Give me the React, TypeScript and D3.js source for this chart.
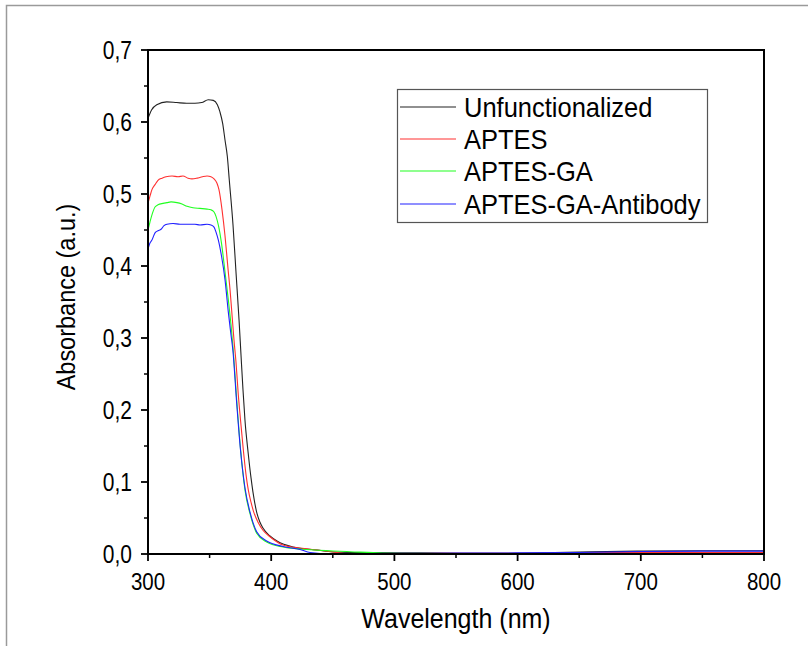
import React from "react";
import * as d3 from "d3";

const seriesNames = ["Unfunctionalized", "APTES", "APTES-GA", "APTES-GA-Antibody"];
const seriesColors = ["#222222", "#ff3030", "#20ff20", "#2020ff"];

const unfWl = [300, 303, 307.1, 315.2, 323.3, 331.4, 338.1, 343.6, 348.9, 353, 356.3, 358.4, 360.6, 362.5, 364.4, 366, 369, 371.4, 373.9, 375.5, 377.1, 378.7, 381.2, 383.6, 385.2, 388.5, 390.9, 393.3, 399, 404.7, 417.7, 437.2, 450.2, 480, 520, 560, 600, 630, 660, 700, 750, 800];
const unfAbs = [0.605, 0.617, 0.624, 0.628, 0.627, 0.626, 0.626, 0.627, 0.631, 0.63, 0.624, 0.614, 0.598, 0.575, 0.552, 0.519, 0.457, 0.392, 0.325, 0.276, 0.228, 0.186, 0.142, 0.106, 0.086, 0.056, 0.044, 0.036, 0.025, 0.018, 0.0097, 0.0056, 0.0028, 0.002, 0.0015, 0.001, 0.001, 0.002, 0.003, 0.004, 0.0045, 0.0045];

const aptWl = [300, 301.6, 303.2, 305.7, 308.1, 311.4, 314.6, 319.5, 324.4, 328.4, 332.5, 335.7, 339.8, 344.2, 347.9, 351.1, 353.6, 356, 357.6, 360.1, 362.5, 364.9, 366.6, 368.2, 369.8, 371.4, 373.3, 375.1, 377.4, 379.5, 381.4, 383.6, 385.5, 389.3, 393.3, 399, 409.6, 423.4, 437.2, 453.4, 461.5, 500, 560, 620, 680, 740, 800];
const aptAbs = [0.4875, 0.497, 0.506, 0.513, 0.519, 0.522, 0.524, 0.525, 0.524, 0.525, 0.522, 0.521, 0.522, 0.524, 0.525, 0.524, 0.521, 0.515, 0.506, 0.478, 0.442, 0.397, 0.367, 0.332, 0.297, 0.267, 0.221, 0.186, 0.144, 0.111, 0.089, 0.072, 0.06, 0.044, 0.033, 0.024, 0.0125, 0.0083, 0.0056, 0.002, 0.0, 0.001, 0.001, 0.001, 0.002, 0.002, 0.002];

const gaWl = [300, 301.6, 303.2, 305.7, 308.1, 312.2, 315.4, 318.7, 323.5, 327.6, 331.7, 336.5, 342.2, 347.9, 351.1, 353.6, 355.2, 357.2, 359.7, 362.5, 365.2, 367.4, 369.2, 372, 375.2, 378.7, 382.8, 388.2, 396.3, 409.6, 423.4, 450.2, 464, 490.7, 520, 560, 600, 700, 800];
const gaAbs = [0.45, 0.461, 0.471, 0.482, 0.485, 0.487, 0.488, 0.489, 0.488, 0.486, 0.483, 0.481, 0.48, 0.479, 0.478, 0.475, 0.469, 0.456, 0.431, 0.392, 0.353, 0.318, 0.283, 0.214, 0.144, 0.089, 0.056, 0.029, 0.0167, 0.0097, 0.0069, 0.0042, 0.0032, 0.0014, 0.001, 0.0005, 0.0, 0.0, 0.0];

const abWl = [300, 301.6, 303.2, 305.7, 308.1, 310.6, 313, 315.4, 320.3, 326, 331.7, 338.1, 342.2, 347.9, 351.1, 353.6, 355.2, 357.1, 359.8, 362.5, 365.2, 367.1, 369, 371.8, 375.1, 378.7, 382.8, 388.2, 396.3, 409.6, 423.4, 431.5, 447.7, 480, 520, 600, 650, 700, 750, 800];
const abAbs = [0.424, 0.432, 0.436, 0.446, 0.449, 0.451, 0.456, 0.458, 0.459, 0.458, 0.458, 0.458, 0.457, 0.458, 0.457, 0.454, 0.447, 0.436, 0.4125, 0.381, 0.336, 0.308, 0.281, 0.214, 0.144, 0.092, 0.058, 0.031, 0.018, 0.0104, 0.0063, 0.002, 0.0, 0.0005, 0.001, 0.0015, 0.002, 0.0035, 0.004, 0.004];

const xTicks = [300, 400, 500, 600, 700, 800];
const xMinor = [350, 450, 550, 650, 750];
const yTicks = [0, 0.1, 0.2, 0.3, 0.4, 0.5, 0.6, 0.7];
const yMinor = [0.05, 0.15, 0.25, 0.35, 0.45, 0.55, 0.65];
const xTitle = "Wavelength (nm)";
const yTitle = "Absorbance (a.u.)";

const W = 808, H = 646;
const L = 148, R = 764, T = 50, B = 554;
const FONT = "'Liberation Sans', Arial, sans-serif";

export default function App() {
  const x = d3.scaleLinear().domain([300, 800]).range([L, R]);
  const y = d3.scaleLinear().domain([0, 0.7]).range([B, T]);
  const series = [
    { wl: unfWl, a: unfAbs },
    { wl: aptWl, a: aptAbs },
    { wl: gaWl, a: gaAbs },
    { wl: abWl, a: abAbs },
  ];
  const line = d3.line<[number, number]>().x(d => x(d[0])).y(d => y(d[1])).curve(d3.curveMonotoneX);
  const fmt = (v: number) => v.toFixed(1).replace(".", ",");
  const legendY = [107, 139, 171, 204];
  const sy = 1.2;
  return (
    <svg width={W} height={H} style={{ position: "absolute", left: 0, top: 0, background: "#fff" }}>
      <rect x={0} y={0} width={W} height={H} fill="#fff" />
      <path d={`M6.5,${H} L6.5,5.5 L${W},5.5`} fill="none" stroke="#9a9a9a" strokeWidth={1.5} />
      <defs>
        <clipPath id="plot"><rect x={L} y={T - 2} width={R - L} height={B - T + 4} /></clipPath>
      </defs>
      <g clipPath="url(#plot)">
        {series.map((s, i) => (
          <path key={i} d={line(s.wl.map((w, j) => [w, s.a[j]] as [number, number])) || ""}
            fill="none" stroke={seriesColors[i]} strokeWidth={1.1} />
        ))}
      </g>
      <rect x={L} y={T} width={R - L} height={B - T} fill="none" stroke="#000" strokeWidth={2} />
      {xTicks.map(t => (
        <g key={"x" + t}>
          <line x1={x(t)} x2={x(t)} y1={B} y2={B + 7} stroke="#000" strokeWidth={1.8} />
          <text transform={`translate(${x(t)},${B + 36}) scale(1,${sy})`} textAnchor="middle" fontFamily={FONT} fontSize={20.5} fill="#000">{t}</text>
        </g>
      ))}
      {xMinor.map(t => (
        <line key={"xm" + t} x1={x(t)} x2={x(t)} y1={B} y2={B + 4} stroke="#000" strokeWidth={1.5} />
      ))}
      {yTicks.map(t => (
        <g key={"y" + t}>
          <line x1={L - 7} x2={L} y1={y(t)} y2={y(t)} stroke="#000" strokeWidth={1.8} />
          <text transform={`translate(${L - 16},${y(t) + 8.5}) scale(1,${sy})`} textAnchor="end" fontFamily={FONT} fontSize={21} fill="#000">{fmt(t)}</text>
        </g>
      ))}
      {yMinor.map(t => (
        <line key={"ym" + t} x1={L - 4} x2={L} y1={y(t)} y2={y(t)} stroke="#000" strokeWidth={1.5} />
      ))}
      <text transform={`translate(${(L + R) / 2},628) scale(1,1.12)`} textAnchor="middle" fontFamily={FONT} fontSize={25} fill="#000">{xTitle}</text>
      <text transform={`translate(75,${(T + B) / 2 - 5}) rotate(-90) scale(1,1.12)`} textAnchor="middle" fontFamily={FONT} fontSize={23.5} fill="#000">{yTitle}</text>
      <rect x={397.5} y={89.5} width={310} height={133} fill="#fff" stroke="#555" strokeWidth={1.2} />
      {seriesNames.map((n, i) => (
        <g key={n}>
          <line x1={400} x2={456} y1={legendY[i]} y2={legendY[i]} stroke={seriesColors[i]} strokeWidth={1.2} />
          <text transform={`translate(464,${legendY[i] + 9.5}) scale(1,1.08)`} fontFamily={FONT} fontSize={25.5} fill="#000">{n}</text>
        </g>
      ))}
    </svg>
  );
}
